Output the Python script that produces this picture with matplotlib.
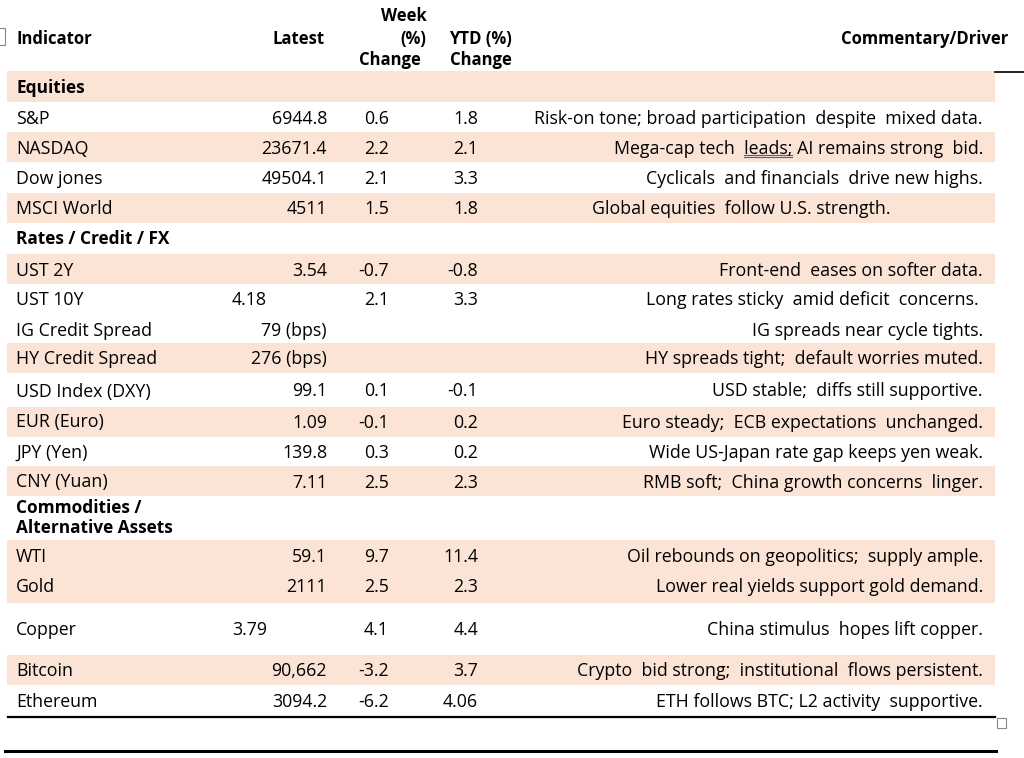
import matplotlib.pyplot as plt
from matplotlib.patches import Rectangle

plt.rcParams['font.family'] = ['Open Sans', 'DejaVu Sans']

# table content -------------------------------------------------------
indicators = ['Equities', 'S&P', 'NASDAQ', 'Dow jones', 'MSCI World',
              'Rates / Credit / FX', 'UST 2Y', 'UST 10Y', 'IG Credit Spread',
              'HY Credit Spread', 'USD Index (DXY)', 'EUR (Euro)', 'JPY (Yen)',
              'CNY (Yuan)', 'Commodities /\nAlternative Assets', 'WTI', 'Gold',
              'Copper', 'Bitcoin', 'Ethereum']
is_section = [1, 0, 0, 0, 0, 1, 0, 0, 0, 0, 0, 0, 0, 0, 1, 0, 0, 0, 0, 0]
latest = ['', '6944.8', '23671.4', '49504.1', '4511', '', '3.54', '4.18',
          '79 (bps)', '276 (bps)', '99.1', '1.09', '139.8', '7.11', '',
          '59.1', '2111', '3.79', '90,662', '3094.2']
week_chg = ['', '0.6', '2.2', '2.1', '1.5', '', '-0.7', '2.1', '', '', '0.1',
            '-0.1', '0.3', '2.5', '', '9.7', '2.5', '4.1', '-3.2', '-6.2']
ytd_chg = ['', '1.8', '2.1', '3.3', '1.8', '', '-0.8', '3.3', '', '', '-0.1',
           '0.2', '0.2', '2.3', '', '11.4', '2.3', '4.4', '3.7', '4.06']
commentary = ['',
              'Risk-on tone; broad participation  despite  mixed data.',
              'Mega-cap tech  leads; AI remains strong  bid.',
              'Cyclicals  and financials  drive new highs.',
              'Global equities  follow U.S. strength.',
              '',
              'Front-end  eases on softer data.',
              'Long rates sticky  amid deficit  concerns. ',
              'IG spreads near cycle tights.',
              'HY spreads tight;  default worries muted.',
              'USD stable;  diffs still supportive.',
              'Euro steady;  ECB expectations  unchanged.',
              'Wide US-Japan rate gap keeps yen weak.',
              'RMB soft;  China growth concerns  linger.',
              '',
              'Oil rebounds on geopolitics;  supply ample.',
              'Lower real yields support gold demand.',
              'China stimulus  hopes lift copper.',
              'Crypto  bid strong;  institutional  flows persistent.',
              'ETH follows BTC; L2 activity  supportive.']
week_head = ['Week', '(%)', 'Change']
ytd_head = ['YTD (%)', 'Change']

# layout (pixels) -----------------------------------------------------
row_y = [88, 117.5, 147, 177, 207.5, 239, 268.5, 298, 329, 357.5, 389.5,
         420.5, 450.5, 480.5, 518, 555.5, 585, 628, 669, 700]
bands = [(71, 102), (132, 162), (193, 223), (254, 284), (343, 373),
         (407, 437), (466, 496), (540, 603), (655, 685)]
shade = '#fbe4d5'
fs = 12.8      # body text
fs_h = 12      # header
fs_s = 12.4    # section labels

fig = plt.figure(figsize=(10.24, 7.58), dpi=100)
ax = fig.add_axes([0, 0, 1, 1])
ax.set_xlim(0, 1024)
ax.set_ylim(758, 0)
ax.axis('off')

for y0, y1 in bands:
    ax.add_patch(Rectangle((7, y0), 988, y1 - y0, color=shade, lw=0))

# header
hd = dict(fontsize=fs_h, fontweight='bold', va='center_baseline')
ax.text(16, 37, 'Indicator', **hd)
ax.text(325, 37, 'Latest', ha='right', **hd)
for txt, y, xr in zip(week_head, [14, 37, 58], [427, 426, 421]):
    ax.text(xr, y, txt, ha='right', **hd)
for txt, y in zip(ytd_head, [37, 58]):
    ax.text(512, y, txt, ha='right', **hd)
ax.text(1008, 37, 'Commentary/Driver', ha='right', **hd)

# body
for i, name in enumerate(indicators):
    y = row_y[i]
    if is_section[i]:
        ax.text(16, y, name, fontsize=fs_s, fontweight='bold', va='center',
                linespacing=1.12)
        continue
    ax.text(16, y, name, fontsize=fs, va='center_baseline')
    if name in ('UST 10Y', 'Copper'):
        ax.text(232, y, latest[i], fontsize=fs, va='center_baseline')
    else:
        ax.text(327, y, latest[i], fontsize=fs, ha='right', va='center_baseline')
    ax.text(389, y, week_chg[i], fontsize=fs, ha='right', va='center_baseline')
    ax.text(478, y, ytd_chg[i], fontsize=fs, ha='right', va='center_baseline')
    x_end = 890 if name == 'MSCI World' else 983
    t = ax.text(x_end, y, commentary[i], fontsize=fs, ha='right', va='center_baseline')
    if name == 'NASDAQ':
        # grammar-check underline beneath "leads;"
        fig.canvas.draw()
        r = fig.canvas.get_renderer()
        full = t.get_window_extent(r)
        tail = ax.text(0, 0, ' AI remains strong  bid.', fontsize=fs)
        word = ax.text(0, 0, 'leads;', fontsize=fs)
        tw = tail.get_window_extent(r).width
        ww = word.get_window_extent(r).width
        tail.remove()
        word.remove()
        x1 = full.x1 - tw
        x0 = x1 - ww
        ax.plot([x0, x1], [y + 8, y + 8], color='#3a5fcd', lw=0.8)
        ax.plot([x0, x1], [y + 10, y + 10], color='#3a5fcd', lw=0.8)

# rules and handles
ax.plot([995, 1024], [71.5, 71.5], color='black', lw=1.2)
ax.plot([8, 995], [716.5, 716.5], color='black', lw=1.6)
ax.plot([5, 996], [750.5, 750.5], color='black', lw=2.2)
ax.add_patch(Rectangle((997, 718), 9, 10, fill=False, ec='#888888', lw=0.8))
ax.add_patch(Rectangle((-4, 28), 9, 17, fill=False, ec='#888888', lw=0.8))

fig.savefig('out.png', dpi=100)
